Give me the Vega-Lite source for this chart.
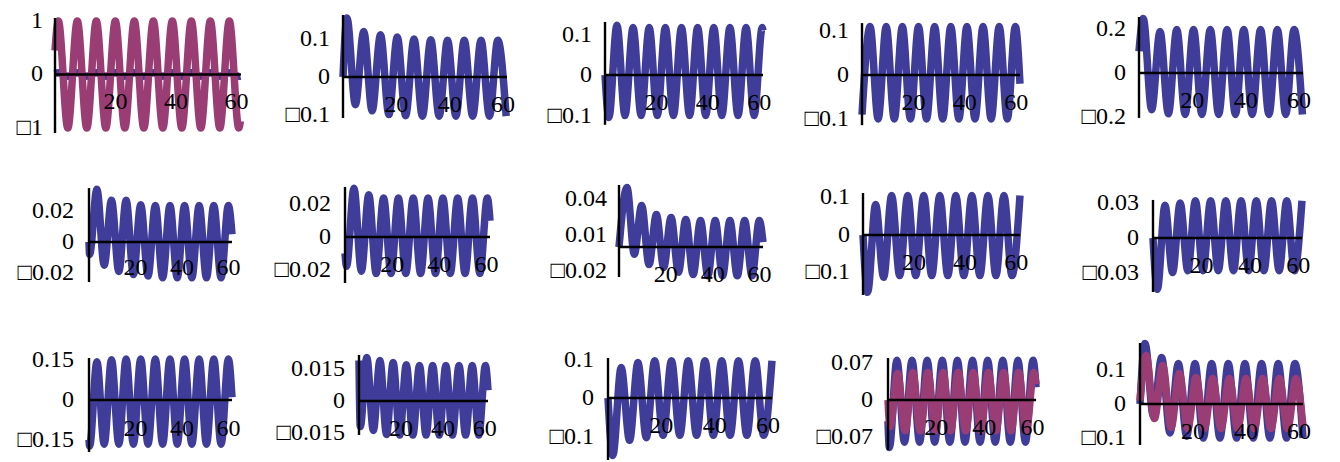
{
"$schema":"https://vega.github.io/schema/vega-lite/v6.json",
"padding":0,
"background":"white",
"config":{"view":{"stroke":null},"line":{"interpolate":"monotone","strokeWidth":7.5},"text":{"font":"Liberation Serif","fontSize":24,"color":"black"}},
"datasets":{"curves":[
{"p":1,"s":"b","t":0,"v":0.015},{"p":1,"s":"b","t":1.1,"v":0.035},{"p":1,"s":"b","t":4.24,"v":-0.035},{"p":1,"s":"b","t":7.38,"v":0.035},{"p":1,"s":"b","t":10.52,"v":-0.035},{"p":1,"s":"b","t":13.67,"v":0.035},{"p":1,"s":"b","t":16.81,"v":-0.035},{"p":1,"s":"b","t":19.95,"v":0.035},{"p":1,"s":"b","t":23.09,"v":-0.035},{"p":1,"s":"b","t":26.23,"v":0.035},{"p":1,"s":"b","t":29.37,"v":-0.035},{"p":1,"s":"b","t":32.52,"v":0.035},{"p":1,"s":"b","t":35.66,"v":-0.035},{"p":1,"s":"b","t":38.8,"v":0.035},{"p":1,"s":"b","t":41.94,"v":-0.035},{"p":1,"s":"b","t":45.08,"v":0.035},{"p":1,"s":"b","t":48.22,"v":-0.035},{"p":1,"s":"b","t":51.37,"v":0.035},{"p":1,"s":"b","t":54.51,"v":-0.035},{"p":1,"s":"b","t":57.65,"v":0.035},{"p":1,"s":"b","t":60.79,"v":-0.035},{"p":1,"s":"b","t":61.3,"v":-0.03},
{"p":1,"s":"r","t":0,"v":0.45},{"p":1,"s":"r","t":1.1,"v":1},{"p":1,"s":"r","t":4.24,"v":-1},{"p":1,"s":"r","t":7.38,"v":1},{"p":1,"s":"r","t":10.52,"v":-1},{"p":1,"s":"r","t":13.67,"v":1},{"p":1,"s":"r","t":16.81,"v":-1},{"p":1,"s":"r","t":19.95,"v":1},{"p":1,"s":"r","t":23.09,"v":-1},{"p":1,"s":"r","t":26.23,"v":1},{"p":1,"s":"r","t":29.37,"v":-1},{"p":1,"s":"r","t":32.52,"v":1},{"p":1,"s":"r","t":35.66,"v":-1},{"p":1,"s":"r","t":38.8,"v":1},{"p":1,"s":"r","t":41.94,"v":-1},{"p":1,"s":"r","t":45.08,"v":1},{"p":1,"s":"r","t":48.22,"v":-1},{"p":1,"s":"r","t":51.37,"v":1},{"p":1,"s":"r","t":54.51,"v":-1},{"p":1,"s":"r","t":57.65,"v":1},{"p":1,"s":"r","t":60.79,"v":-1},{"p":1,"s":"r","t":61.3,"v":-0.87},
{"p":2,"s":"b","t":0,"v":0},{"p":2,"s":"b","t":1.5,"v":0.155},{"p":2,"s":"b","t":4.64,"v":-0.073},{"p":2,"s":"b","t":7.78,"v":0.12},{"p":2,"s":"b","t":10.92,"v":-0.089},{"p":2,"s":"b","t":14.07,"v":0.111},{"p":2,"s":"b","t":17.21,"v":-0.099},{"p":2,"s":"b","t":20.35,"v":0.105},{"p":2,"s":"b","t":23.49,"v":-0.102},{"p":2,"s":"b","t":26.63,"v":0.1},{"p":2,"s":"b","t":29.77,"v":-0.103},{"p":2,"s":"b","t":32.92,"v":0.098},{"p":2,"s":"b","t":36.06,"v":-0.103},{"p":2,"s":"b","t":39.2,"v":0.097},{"p":2,"s":"b","t":42.34,"v":-0.103},{"p":2,"s":"b","t":45.48,"v":0.097},{"p":2,"s":"b","t":48.62,"v":-0.103},{"p":2,"s":"b","t":51.77,"v":0.097},{"p":2,"s":"b","t":54.91,"v":-0.103},{"p":2,"s":"b","t":58.05,"v":0.097},{"p":2,"s":"b","t":61.19,"v":-0.103},
{"p":3,"s":"b","t":0,"v":0},{"p":3,"s":"b","t":1.5,"v":-0.105},{"p":3,"s":"b","t":4.64,"v":0.123},{"p":3,"s":"b","t":7.78,"v":-0.1},{"p":3,"s":"b","t":10.92,"v":0.117},{"p":3,"s":"b","t":14.07,"v":-0.1},{"p":3,"s":"b","t":17.21,"v":0.117},{"p":3,"s":"b","t":20.35,"v":-0.1},{"p":3,"s":"b","t":23.49,"v":0.117},{"p":3,"s":"b","t":26.63,"v":-0.1},{"p":3,"s":"b","t":29.77,"v":0.117},{"p":3,"s":"b","t":32.92,"v":-0.1},{"p":3,"s":"b","t":36.06,"v":0.117},{"p":3,"s":"b","t":39.2,"v":-0.1},{"p":3,"s":"b","t":42.34,"v":0.117},{"p":3,"s":"b","t":45.48,"v":-0.1},{"p":3,"s":"b","t":48.62,"v":0.117},{"p":3,"s":"b","t":51.77,"v":-0.1},{"p":3,"s":"b","t":54.91,"v":0.117},{"p":3,"s":"b","t":58.05,"v":-0.1},{"p":3,"s":"b","t":61.19,"v":0.117},{"p":3,"s":"b","t":61.5,"v":0.11},
{"p":4,"s":"b","t":0,"v":-0.09},{"p":4,"s":"b","t":3.14,"v":0.11},{"p":4,"s":"b","t":6.28,"v":-0.1},{"p":4,"s":"b","t":9.42,"v":0.11},{"p":4,"s":"b","t":12.57,"v":-0.1},{"p":4,"s":"b","t":15.71,"v":0.11},{"p":4,"s":"b","t":18.85,"v":-0.1},{"p":4,"s":"b","t":21.99,"v":0.11},{"p":4,"s":"b","t":25.13,"v":-0.1},{"p":4,"s":"b","t":28.27,"v":0.11},{"p":4,"s":"b","t":31.42,"v":-0.1},{"p":4,"s":"b","t":34.56,"v":0.11},{"p":4,"s":"b","t":37.7,"v":-0.1},{"p":4,"s":"b","t":40.84,"v":0.11},{"p":4,"s":"b","t":43.98,"v":-0.1},{"p":4,"s":"b","t":47.12,"v":0.11},{"p":4,"s":"b","t":50.27,"v":-0.1},{"p":4,"s":"b","t":53.41,"v":0.11},{"p":4,"s":"b","t":56.55,"v":-0.1},{"p":4,"s":"b","t":59.69,"v":0.11},{"p":4,"s":"b","t":61.5,"v":-0.02},
{"p":5,"s":"b","t":0,"v":0.1},{"p":5,"s":"b","t":1.6,"v":0.25},{"p":5,"s":"b","t":4.74,"v":-0.168},{"p":5,"s":"b","t":7.88,"v":0.19},{"p":5,"s":"b","t":11.02,"v":-0.187},{"p":5,"s":"b","t":14.17,"v":0.2},{"p":5,"s":"b","t":17.31,"v":-0.19},{"p":5,"s":"b","t":20.45,"v":0.2},{"p":5,"s":"b","t":23.59,"v":-0.19},{"p":5,"s":"b","t":26.73,"v":0.2},{"p":5,"s":"b","t":29.87,"v":-0.19},{"p":5,"s":"b","t":33.02,"v":0.2},{"p":5,"s":"b","t":36.16,"v":-0.19},{"p":5,"s":"b","t":39.3,"v":0.2},{"p":5,"s":"b","t":42.44,"v":-0.19},{"p":5,"s":"b","t":45.58,"v":0.2},{"p":5,"s":"b","t":48.72,"v":-0.19},{"p":5,"s":"b","t":51.87,"v":0.2},{"p":5,"s":"b","t":55.01,"v":-0.19},{"p":5,"s":"b","t":58.15,"v":0.2},{"p":5,"s":"b","t":61.29,"v":-0.19},
{"p":6,"s":"b","t":0,"v":0},{"p":6,"s":"b","t":0.26,"v":-0.008},{"p":6,"s":"b","t":3.4,"v":0.034},{"p":6,"s":"b","t":6.54,"v":-0.015},{"p":6,"s":"b","t":9.68,"v":0.027},{"p":6,"s":"b","t":12.83,"v":-0.019},{"p":6,"s":"b","t":15.97,"v":0.027},{"p":6,"s":"b","t":19.11,"v":-0.021},{"p":6,"s":"b","t":22.25,"v":0.024},{"p":6,"s":"b","t":25.39,"v":-0.022},{"p":6,"s":"b","t":28.53,"v":0.0235},{"p":6,"s":"b","t":31.68,"v":-0.023},{"p":6,"s":"b","t":34.82,"v":0.0235},{"p":6,"s":"b","t":37.96,"v":-0.023},{"p":6,"s":"b","t":41.1,"v":0.0235},{"p":6,"s":"b","t":44.24,"v":-0.023},{"p":6,"s":"b","t":47.38,"v":0.0235},{"p":6,"s":"b","t":50.53,"v":-0.023},{"p":6,"s":"b","t":53.67,"v":0.0235},{"p":6,"s":"b","t":56.81,"v":-0.023},{"p":6,"s":"b","t":59.95,"v":0.0235},{"p":6,"s":"b","t":61.5,"v":0.005},
{"p":7,"s":"b","t":0,"v":-0.01},{"p":7,"s":"b","t":0.66,"v":-0.018},{"p":7,"s":"b","t":3.8,"v":0.03},{"p":7,"s":"b","t":6.94,"v":-0.021},{"p":7,"s":"b","t":10.08,"v":0.026},{"p":7,"s":"b","t":13.23,"v":-0.0225},{"p":7,"s":"b","t":16.37,"v":0.024},{"p":7,"s":"b","t":19.51,"v":-0.0225},{"p":7,"s":"b","t":22.65,"v":0.024},{"p":7,"s":"b","t":25.79,"v":-0.0225},{"p":7,"s":"b","t":28.93,"v":0.024},{"p":7,"s":"b","t":32.08,"v":-0.0225},{"p":7,"s":"b","t":35.22,"v":0.024},{"p":7,"s":"b","t":38.36,"v":-0.0225},{"p":7,"s":"b","t":41.5,"v":0.024},{"p":7,"s":"b","t":44.64,"v":-0.0225},{"p":7,"s":"b","t":47.78,"v":0.024},{"p":7,"s":"b","t":50.93,"v":-0.0225},{"p":7,"s":"b","t":54.07,"v":0.024},{"p":7,"s":"b","t":57.21,"v":-0.0225},{"p":7,"s":"b","t":60.35,"v":0.024},{"p":7,"s":"b","t":61.5,"v":0.01},
{"p":8,"s":"b","t":0,"v":0},{"p":8,"s":"b","t":3.4,"v":0.0496},{"p":8,"s":"b","t":6.54,"v":-0.006},{"p":8,"s":"b","t":9.68,"v":0.0346},{"p":8,"s":"b","t":12.83,"v":-0.0146},{"p":8,"s":"b","t":15.97,"v":0.027},{"p":8,"s":"b","t":19.11,"v":-0.017},{"p":8,"s":"b","t":22.25,"v":0.0246},{"p":8,"s":"b","t":25.39,"v":-0.021},{"p":8,"s":"b","t":28.53,"v":0.023},{"p":8,"s":"b","t":31.68,"v":-0.023},{"p":8,"s":"b","t":34.82,"v":0.022},{"p":8,"s":"b","t":37.96,"v":-0.024},{"p":8,"s":"b","t":41.1,"v":0.022},{"p":8,"s":"b","t":44.24,"v":-0.024},{"p":8,"s":"b","t":47.38,"v":0.022},{"p":8,"s":"b","t":50.53,"v":-0.024},{"p":8,"s":"b","t":53.67,"v":0.022},{"p":8,"s":"b","t":56.81,"v":-0.024},{"p":8,"s":"b","t":59.95,"v":0.022},{"p":8,"s":"b","t":61.5,"v":0.004},
{"p":9,"s":"b","t":0,"v":0},{"p":9,"s":"b","t":1.8,"v":-0.153},{"p":9,"s":"b","t":4.94,"v":0.081},{"p":9,"s":"b","t":8.08,"v":-0.113},{"p":9,"s":"b","t":11.22,"v":0.105},{"p":9,"s":"b","t":14.37,"v":-0.108},{"p":9,"s":"b","t":17.51,"v":0.105},{"p":9,"s":"b","t":20.65,"v":-0.108},{"p":9,"s":"b","t":23.79,"v":0.105},{"p":9,"s":"b","t":26.93,"v":-0.108},{"p":9,"s":"b","t":30.07,"v":0.105},{"p":9,"s":"b","t":33.22,"v":-0.108},{"p":9,"s":"b","t":36.36,"v":0.105},{"p":9,"s":"b","t":39.5,"v":-0.108},{"p":9,"s":"b","t":42.64,"v":0.105},{"p":9,"s":"b","t":45.78,"v":-0.108},{"p":9,"s":"b","t":48.92,"v":0.105},{"p":9,"s":"b","t":52.07,"v":-0.108},{"p":9,"s":"b","t":55.21,"v":0.105},{"p":9,"s":"b","t":58.35,"v":-0.108},{"p":9,"s":"b","t":61.49,"v":0.105},
{"p":10,"s":"b","t":0,"v":0},{"p":10,"s":"b","t":1.8,"v":-0.044},{"p":10,"s":"b","t":4.94,"v":0.028},{"p":10,"s":"b","t":8.08,"v":-0.0296},{"p":10,"s":"b","t":11.22,"v":0.03},{"p":10,"s":"b","t":14.37,"v":-0.028},{"p":10,"s":"b","t":17.51,"v":0.032},{"p":10,"s":"b","t":20.65,"v":-0.028},{"p":10,"s":"b","t":23.79,"v":0.032},{"p":10,"s":"b","t":26.93,"v":-0.028},{"p":10,"s":"b","t":30.07,"v":0.032},{"p":10,"s":"b","t":33.22,"v":-0.028},{"p":10,"s":"b","t":36.36,"v":0.032},{"p":10,"s":"b","t":39.5,"v":-0.028},{"p":10,"s":"b","t":42.64,"v":0.032},{"p":10,"s":"b","t":45.78,"v":-0.028},{"p":10,"s":"b","t":48.92,"v":0.032},{"p":10,"s":"b","t":52.07,"v":-0.028},{"p":10,"s":"b","t":55.21,"v":0.032},{"p":10,"s":"b","t":58.35,"v":-0.028},{"p":10,"s":"b","t":61.49,"v":0.032},
{"p":11,"s":"b","t":0,"v":-0.15},{"p":11,"s":"b","t":0.26,"v":-0.174},{"p":11,"s":"b","t":3.4,"v":0.144},{"p":11,"s":"b","t":6.54,"v":-0.167},{"p":11,"s":"b","t":9.68,"v":0.152},{"p":11,"s":"b","t":12.83,"v":-0.167},{"p":11,"s":"b","t":15.97,"v":0.155},{"p":11,"s":"b","t":19.11,"v":-0.167},{"p":11,"s":"b","t":22.25,"v":0.155},{"p":11,"s":"b","t":25.39,"v":-0.167},{"p":11,"s":"b","t":28.53,"v":0.155},{"p":11,"s":"b","t":31.68,"v":-0.167},{"p":11,"s":"b","t":34.82,"v":0.155},{"p":11,"s":"b","t":37.96,"v":-0.167},{"p":11,"s":"b","t":41.1,"v":0.155},{"p":11,"s":"b","t":44.24,"v":-0.167},{"p":11,"s":"b","t":47.38,"v":0.155},{"p":11,"s":"b","t":50.53,"v":-0.167},{"p":11,"s":"b","t":53.67,"v":0.155},{"p":11,"s":"b","t":56.81,"v":-0.167},{"p":11,"s":"b","t":59.95,"v":0.155},{"p":11,"s":"b","t":61.5,"v":0.01},
{"p":12,"s":"b","t":0,"v":0.019},{"p":12,"s":"b","t":0.6,"v":-0.012},{"p":12,"s":"b","t":3.7,"v":0.0204},{"p":12,"s":"b","t":6.84,"v":-0.0138},{"p":12,"s":"b","t":9.98,"v":0.019},{"p":12,"s":"b","t":13.12,"v":-0.0157},{"p":12,"s":"b","t":16.27,"v":0.018},{"p":12,"s":"b","t":19.41,"v":-0.016},{"p":12,"s":"b","t":22.55,"v":0.017},{"p":12,"s":"b","t":25.69,"v":-0.016},{"p":12,"s":"b","t":28.83,"v":0.0166},{"p":12,"s":"b","t":31.97,"v":-0.016},{"p":12,"s":"b","t":35.12,"v":0.0166},{"p":12,"s":"b","t":38.26,"v":-0.016},{"p":12,"s":"b","t":41.4,"v":0.0166},{"p":12,"s":"b","t":44.54,"v":-0.016},{"p":12,"s":"b","t":47.68,"v":0.0166},{"p":12,"s":"b","t":50.82,"v":-0.016},{"p":12,"s":"b","t":53.97,"v":0.0166},{"p":12,"s":"b","t":57.11,"v":-0.016},{"p":12,"s":"b","t":60.25,"v":0.0166},{"p":12,"s":"b","t":61.5,"v":0.005},
{"p":13,"s":"b","t":0,"v":0},{"p":13,"s":"b","t":1.8,"v":-0.149},{"p":13,"s":"b","t":4.94,"v":0.079},{"p":13,"s":"b","t":8.08,"v":-0.11},{"p":13,"s":"b","t":11.22,"v":0.092},{"p":13,"s":"b","t":14.37,"v":-0.103},{"p":13,"s":"b","t":17.51,"v":0.097},{"p":13,"s":"b","t":20.65,"v":-0.097},{"p":13,"s":"b","t":23.79,"v":0.097},{"p":13,"s":"b","t":26.93,"v":-0.097},{"p":13,"s":"b","t":30.07,"v":0.097},{"p":13,"s":"b","t":33.22,"v":-0.097},{"p":13,"s":"b","t":36.36,"v":0.097},{"p":13,"s":"b","t":39.5,"v":-0.097},{"p":13,"s":"b","t":42.64,"v":0.097},{"p":13,"s":"b","t":45.78,"v":-0.097},{"p":13,"s":"b","t":48.92,"v":0.097},{"p":13,"s":"b","t":52.07,"v":-0.097},{"p":13,"s":"b","t":55.21,"v":0.097},{"p":13,"s":"b","t":58.35,"v":-0.097},{"p":13,"s":"b","t":61.49,"v":0.097},
{"p":14,"s":"b","t":0,"v":-0.04},{"p":14,"s":"b","t":0.56,"v":-0.09},{"p":14,"s":"b","t":3.7,"v":0.075},{"p":14,"s":"b","t":6.84,"v":-0.08},{"p":14,"s":"b","t":9.98,"v":0.075},{"p":14,"s":"b","t":13.12,"v":-0.08},{"p":14,"s":"b","t":16.27,"v":0.075},{"p":14,"s":"b","t":19.41,"v":-0.08},{"p":14,"s":"b","t":22.55,"v":0.075},{"p":14,"s":"b","t":25.69,"v":-0.08},{"p":14,"s":"b","t":28.83,"v":0.075},{"p":14,"s":"b","t":31.97,"v":-0.08},{"p":14,"s":"b","t":35.12,"v":0.075},{"p":14,"s":"b","t":38.26,"v":-0.08},{"p":14,"s":"b","t":41.4,"v":0.075},{"p":14,"s":"b","t":44.54,"v":-0.08},{"p":14,"s":"b","t":47.68,"v":0.075},{"p":14,"s":"b","t":50.82,"v":-0.08},{"p":14,"s":"b","t":53.97,"v":0.075},{"p":14,"s":"b","t":57.11,"v":-0.08},{"p":14,"s":"b","t":60.25,"v":0.075},{"p":14,"s":"b","t":61.5,"v":0.024},
{"p":14,"s":"r","t":0,"v":0},{"p":14,"s":"r","t":0.86,"v":-0.05},{"p":14,"s":"r","t":4,"v":0.05},{"p":14,"s":"r","t":7.14,"v":-0.058},{"p":14,"s":"r","t":10.28,"v":0.052},{"p":14,"s":"r","t":13.42,"v":-0.058},{"p":14,"s":"r","t":16.57,"v":0.052},{"p":14,"s":"r","t":19.71,"v":-0.058},{"p":14,"s":"r","t":22.85,"v":0.052},{"p":14,"s":"r","t":25.99,"v":-0.058},{"p":14,"s":"r","t":29.13,"v":0.052},{"p":14,"s":"r","t":32.27,"v":-0.058},{"p":14,"s":"r","t":35.42,"v":0.052},{"p":14,"s":"r","t":38.56,"v":-0.058},{"p":14,"s":"r","t":41.7,"v":0.052},{"p":14,"s":"r","t":44.84,"v":-0.058},{"p":14,"s":"r","t":47.98,"v":0.052},{"p":14,"s":"r","t":51.12,"v":-0.058},{"p":14,"s":"r","t":54.27,"v":0.052},{"p":14,"s":"r","t":57.41,"v":-0.058},{"p":14,"s":"r","t":60.55,"v":0.052},{"p":14,"s":"r","t":61.5,"v":0.03},
{"p":15,"s":"b","t":0,"v":0},{"p":15,"s":"b","t":1.9,"v":0.178},{"p":15,"s":"b","t":5.04,"v":-0.035},{"p":15,"s":"b","t":8.18,"v":0.137},{"p":15,"s":"b","t":11.32,"v":-0.085},{"p":15,"s":"b","t":14.47,"v":0.119},{"p":15,"s":"b","t":17.61,"v":-0.095},{"p":15,"s":"b","t":20.75,"v":0.119},{"p":15,"s":"b","t":23.89,"v":-0.1},{"p":15,"s":"b","t":27.03,"v":0.119},{"p":15,"s":"b","t":30.17,"v":-0.1},{"p":15,"s":"b","t":33.32,"v":0.119},{"p":15,"s":"b","t":36.46,"v":-0.1},{"p":15,"s":"b","t":39.6,"v":0.119},{"p":15,"s":"b","t":42.74,"v":-0.1},{"p":15,"s":"b","t":45.88,"v":0.119},{"p":15,"s":"b","t":49.02,"v":-0.1},{"p":15,"s":"b","t":52.17,"v":0.119},{"p":15,"s":"b","t":55.31,"v":-0.1},{"p":15,"s":"b","t":58.45,"v":0.119},{"p":15,"s":"b","t":61.5,"v":-0.1},
{"p":15,"s":"r","t":0,"v":0.01},{"p":15,"s":"r","t":2.3,"v":0.143},{"p":15,"s":"r","t":5.44,"v":-0.043},{"p":15,"s":"r","t":8.58,"v":0.113},{"p":15,"s":"r","t":11.72,"v":-0.069},{"p":15,"s":"r","t":14.87,"v":0.09},{"p":15,"s":"r","t":18.01,"v":-0.072},{"p":15,"s":"r","t":21.15,"v":0.078},{"p":15,"s":"r","t":24.29,"v":-0.072},{"p":15,"s":"r","t":27.43,"v":0.075},{"p":15,"s":"r","t":30.57,"v":-0.072},{"p":15,"s":"r","t":33.72,"v":0.075},{"p":15,"s":"r","t":36.86,"v":-0.072},{"p":15,"s":"r","t":40,"v":0.075},{"p":15,"s":"r","t":43.14,"v":-0.072},{"p":15,"s":"r","t":46.28,"v":0.075},{"p":15,"s":"r","t":49.42,"v":-0.072},{"p":15,"s":"r","t":52.57,"v":0.075},{"p":15,"s":"r","t":55.71,"v":-0.072},{"p":15,"s":"r","t":58.85,"v":0.075},{"p":15,"s":"r","t":61.5,"v":-0.065}
]},
"vconcat":[
{"hconcat":[
{"width":283,"height":155,"encoding":{"x":{"field":"t","type":"quantitative","scale":{"domain":[-18.19,75.4],"nice":false,"zero":false},"axis":null},"y":{"field":"v","type":"quantitative","scale":{"domain":[-1.5047,1.3925],"nice":false,"zero":false},"axis":null}},
"layer":[
{"data":{"name":"curves"},"transform":[{"filter":"datum.p==1 && datum.s=='b'"}],"mark":{"type":"line","color":"#3F3D99"}},
{"data":{"name":"curves"},"transform":[{"filter":"datum.p==1 && datum.s=='r'"}],"mark":{"type":"line","color":"#993D74"}},
{"data":{"values":[{"t":0,"t2":61.5,"v":0,"v2":0},{"t":0,"t2":0,"v":-1.093,"v2":1.056}]},"mark":{"type":"rule","color":"black","strokeWidth":2.4},"encoding":{"x2":{"field":"t2"},"y2":{"field":"v2"}}},
{"data":{"values":[{"t":0,"v":1,"l":"1"},{"t":0,"v":0,"l":"0"},{"t":0,"v":-1,"l":"□1"}]},"mark":{"type":"text","align":"right","baseline":"middle","dx":-12},"encoding":{"text":{"field":"l"}}},
{"data":{"values":[{"t":20,"v":0,"l":"20"},{"t":40,"v":0,"l":"40"},{"t":60,"v":0,"l":"60"}]},"mark":{"type":"text","align":"center","baseline":"middle","dy":28},"encoding":{"text":{"field":"l"}}}
]},
{"width":262,"height":155,"encoding":{"x":{"field":"t","type":"quantitative","scale":{"domain":[-22.5,75.75],"nice":false,"zero":false},"axis":null},"y":{"field":"v","type":"quantitative","scale":{"domain":[-0.2053,0.2026],"nice":false,"zero":false},"axis":null}},
"layer":[
{"data":{"name":"curves"},"transform":[{"filter":"datum.p==2"}],"mark":{"type":"line","color":"#3F3D99"}},
{"data":{"values":[{"t":0,"t2":61.5,"v":0,"v2":0},{"t":0,"t2":0,"v":-0.108,"v2":0.163}]},"mark":{"type":"rule","color":"black","strokeWidth":2.4},"encoding":{"x2":{"field":"t2"},"y2":{"field":"v2"}}},
{"data":{"values":[{"t":0,"v":0.1,"l":"0.1"},{"t":0,"v":0,"l":"0"},{"t":0,"v":-0.1,"l":"□0.1"}]},"mark":{"type":"text","align":"right","baseline":"middle","dx":-13},"encoding":{"text":{"field":"l"}}},
{"data":{"values":[{"t":20,"v":0,"l":"20"},{"t":40,"v":0,"l":"40"},{"t":60,"v":0,"l":"60"}]},"mark":{"type":"text","align":"center","baseline":"middle","dy":28},"encoding":{"text":{"field":"l"}}}
]},
{"width":257,"height":155,"encoding":{"x":{"field":"t","type":"quantitative","scale":{"domain":[-23.36,76.68],"nice":false,"zero":false},"axis":null},"y":{"field":"v","type":"quantitative","scale":{"domain":[-0.1975,0.1852],"nice":false,"zero":false},"axis":null}},
"layer":[
{"data":{"name":"curves"},"transform":[{"filter":"datum.p==3"}],"mark":{"type":"line","color":"#3F3D99"}},
{"data":{"values":[{"t":0,"t2":61.5,"v":0,"v2":0},{"t":0,"t2":0,"v":-0.123,"v2":0.131}]},"mark":{"type":"rule","color":"black","strokeWidth":2.4},"encoding":{"x2":{"field":"t2"},"y2":{"field":"v2"}}},
{"data":{"values":[{"t":0,"v":0.1,"l":"0.1"},{"t":0,"v":0,"l":"0"},{"t":0,"v":-0.1,"l":"□0.1"}]},"mark":{"type":"text","align":"right","baseline":"middle","dx":-13},"encoding":{"text":{"field":"l"}}},
{"data":{"values":[{"t":20,"v":0,"l":"20"},{"t":40,"v":0,"l":"40"},{"t":60,"v":0,"l":"60"}]},"mark":{"type":"text","align":"center","baseline":"middle","dy":28},"encoding":{"text":{"field":"l"}}}
]},
{"width":277,"height":155,"encoding":{"x":{"field":"t","type":"quantitative","scale":{"domain":[-23.36,84.47],"nice":false,"zero":false},"axis":null},"y":{"field":"v","type":"quantitative","scale":{"domain":[-0.1818,0.1705],"nice":false,"zero":false},"axis":null}},
"layer":[
{"data":{"name":"curves"},"transform":[{"filter":"datum.p==4"}],"mark":{"type":"line","color":"#3F3D99"}},
{"data":{"values":[{"t":0,"t2":61.5,"v":0,"v2":0},{"t":0,"t2":0,"v":-0.114,"v2":0.118}]},"mark":{"type":"rule","color":"black","strokeWidth":2.4},"encoding":{"x2":{"field":"t2"},"y2":{"field":"v2"}}},
{"data":{"values":[{"t":0,"v":0.1,"l":"0.1"},{"t":0,"v":0,"l":"0"},{"t":0,"v":-0.1,"l":"□0.1"}]},"mark":{"type":"text","align":"right","baseline":"middle","dx":-13},"encoding":{"text":{"field":"l"}}},
{"data":{"values":[{"t":20,"v":0,"l":"20"},{"t":40,"v":0,"l":"40"},{"t":60,"v":0,"l":"60"}]},"mark":{"type":"text","align":"center","baseline":"middle","dy":28},"encoding":{"text":{"field":"l"}}}
]},
{"width":261,"height":155,"encoding":{"x":{"field":"t","type":"quantitative","scale":{"domain":[-22.5,75.37],"nice":false,"zero":false},"axis":null},"y":{"field":"v","type":"quantitative","scale":{"domain":[-0.3761,0.3349],"nice":false,"zero":false},"axis":null}},
"layer":[
{"data":{"name":"curves"},"transform":[{"filter":"datum.p==5"}],"mark":{"type":"line","color":"#3F3D99"}},
{"data":{"values":[{"t":0,"t2":61.5,"v":0,"v2":0},{"t":0,"t2":0,"v":-0.206,"v2":0.257}]},"mark":{"type":"rule","color":"black","strokeWidth":2.4},"encoding":{"x2":{"field":"t2"},"y2":{"field":"v2"}}},
{"data":{"values":[{"t":0,"v":0.2,"l":"0.2"},{"t":0,"v":0,"l":"0"},{"t":0,"v":-0.2,"l":"□0.2"}]},"mark":{"type":"text","align":"right","baseline":"middle","dx":-13},"encoding":{"text":{"field":"l"}}},
{"data":{"values":[{"t":20,"v":0,"l":"20"},{"t":40,"v":0,"l":"40"},{"t":60,"v":0,"l":"60"}]},"mark":{"type":"text","align":"center","baseline":"middle","dy":28},"encoding":{"text":{"field":"l"}}}
]}
],"spacing":0,"bounds":"flush"},
{"hconcat":[
{"width":285,"height":155,"encoding":{"x":{"field":"t","type":"quantitative","scale":{"domain":[-38.28,84.3],"nice":false,"zero":false},"axis":null},"y":{"field":"v","type":"quantitative","scale":{"domain":[-0.04387,0.05613],"nice":false,"zero":false},"axis":null}},
"layer":[
{"data":{"name":"curves"},"transform":[{"filter":"datum.p==6"}],"mark":{"type":"line","color":"#3F3D99"}},
{"data":{"values":[{"t":0,"t2":61.5,"v":0,"v2":0},{"t":0,"t2":0,"v":-0.0258,"v2":0.0348}]},"mark":{"type":"rule","color":"black","strokeWidth":2.4},"encoding":{"x2":{"field":"t2"},"y2":{"field":"v2"}}},
{"data":{"values":[{"t":0,"v":0.02,"l":"0.02"},{"t":0,"v":0,"l":"0"},{"t":0,"v":-0.02,"l":"□0.02"}]},"mark":{"type":"text","align":"right","baseline":"middle","dx":-15},"encoding":{"text":{"field":"l"}}},
{"data":{"values":[{"t":20,"v":0,"l":"20"},{"t":40,"v":0,"l":"40"},{"t":60,"v":0,"l":"60"}]},"mark":{"type":"text","align":"center","baseline":"middle","dy":26},"encoding":{"text":{"field":"l"}}}
]},
{"width":274,"height":155,"encoding":{"x":{"field":"t","type":"quantitative","scale":{"domain":[-25.45,90.76],"nice":false,"zero":false},"axis":null},"y":{"field":"v","type":"quantitative","scale":{"domain":[-0.04492,0.05046],"nice":false,"zero":false},"axis":null}},
"layer":[
{"data":{"name":"curves"},"transform":[{"filter":"datum.p==7"}],"mark":{"type":"line","color":"#3F3D99"}},
{"data":{"values":[{"t":0,"t2":61.5,"v":0,"v2":0},{"t":0,"t2":0,"v":-0.0283,"v2":0.0308}]},"mark":{"type":"rule","color":"black","strokeWidth":2.4},"encoding":{"x2":{"field":"t2"},"y2":{"field":"v2"}}},
{"data":{"values":[{"t":0,"v":0.02,"l":"0.02"},{"t":0,"v":0,"l":"0"},{"t":0,"v":-0.02,"l":"□0.02"}]},"mark":{"type":"text","align":"right","baseline":"middle","dx":-14},"encoding":{"text":{"field":"l"}}},
{"data":{"values":[{"t":20,"v":0,"l":"20"},{"t":40,"v":0,"l":"40"},{"t":60,"v":0,"l":"60"}]},"mark":{"type":"text","align":"center","baseline":"middle","dy":28},"encoding":{"text":{"field":"l"}}}
]},
{"width":244,"height":155,"encoding":{"x":{"field":"t","type":"quantitative","scale":{"domain":[-25.63,78.6],"nice":false,"zero":false},"axis":null},"y":{"field":"v","type":"quantitative","scale":{"domain":[-0.0525,0.07667],"nice":false,"zero":false},"axis":null}},
"layer":[
{"data":{"name":"curves"},"transform":[{"filter":"datum.p==8"}],"mark":{"type":"line","color":"#3F3D99"}},
{"data":{"values":[{"t":0,"t2":61.5,"v":0,"v2":0},{"t":0,"t2":0,"v":-0.025,"v2":0.0517}]},"mark":{"type":"rule","color":"black","strokeWidth":2.4},"encoding":{"x2":{"field":"t2"},"y2":{"field":"v2"}}},
{"data":{"values":[{"t":0,"v":0.04,"l":"0.04"},{"t":0,"v":0.01,"l":"0.01"},{"t":0,"v":-0.02,"l":"□0.02"}]},"mark":{"type":"text","align":"right","baseline":"middle","dx":-12},"encoding":{"text":{"field":"l"}}},
{"data":{"values":[{"t":20,"v":0,"l":"20"},{"t":40,"v":0,"l":"40"},{"t":60,"v":0,"l":"60"}]},"mark":{"type":"text","align":"center","baseline":"middle","dy":28},"encoding":{"text":{"field":"l"}}}
]},
{"width":290,"height":155,"encoding":{"x":{"field":"t","type":"quantitative","scale":{"domain":[-23.5,90.09],"nice":false,"zero":false},"axis":null},"y":{"field":"v","type":"quantitative","scale":{"domain":[-0.2,0.2133],"nice":false,"zero":false},"axis":null}},
"layer":[
{"data":{"name":"curves"},"transform":[{"filter":"datum.p==9"}],"mark":{"type":"line","color":"#3F3D99"}},
{"data":{"values":[{"t":0,"t2":61.5,"v":0,"v2":0},{"t":0,"t2":0,"v":-0.16,"v2":0.112}]},"mark":{"type":"rule","color":"black","strokeWidth":2.4},"encoding":{"x2":{"field":"t2"},"y2":{"field":"v2"}}},
{"data":{"values":[{"t":0,"v":0.1,"l":"0.1"},{"t":0,"v":0,"l":"0"},{"t":0,"v":-0.1,"l":"□0.1"}]},"mark":{"type":"text","align":"right","baseline":"middle","dx":-13},"encoding":{"text":{"field":"l"}}},
{"data":{"values":[{"t":20,"v":0,"l":"20"},{"t":40,"v":0,"l":"40"},{"t":60,"v":0,"l":"60"}]},"mark":{"type":"text","align":"center","baseline":"middle","dy":28},"encoding":{"text":{"field":"l"}}}
]},
{"width":247,"height":155,"encoding":{"x":{"field":"t","type":"quantitative","scale":{"domain":[-24.76,77.18],"nice":false,"zero":false},"axis":null},"y":{"field":"v","type":"quantitative","scale":{"domain":[-0.0617,0.07112],"nice":false,"zero":false},"axis":null}},
"layer":[
{"data":{"name":"curves"},"transform":[{"filter":"datum.p==10"}],"mark":{"type":"line","color":"#3F3D99"}},
{"data":{"values":[{"t":0,"t2":61.5,"v":0,"v2":0},{"t":0,"t2":0,"v":-0.0463,"v2":0.0326}]},"mark":{"type":"rule","color":"black","strokeWidth":2.4},"encoding":{"x2":{"field":"t2"},"y2":{"field":"v2"}}},
{"data":{"values":[{"t":0,"v":0.03,"l":"0.03"},{"t":0,"v":0,"l":"0"},{"t":0,"v":-0.03,"l":"□0.03"}]},"mark":{"type":"text","align":"right","baseline":"middle","dx":-14},"encoding":{"text":{"field":"l"}}},
{"data":{"values":[{"t":20,"v":0,"l":"20"},{"t":40,"v":0,"l":"40"},{"t":60,"v":0,"l":"60"}]},"mark":{"type":"text","align":"center","baseline":"middle","dy":28},"encoding":{"text":{"field":"l"}}}
]}
],"spacing":0,"bounds":"flush"},
{"hconcat":[
{"width":299,"height":152,"encoding":{"x":{"field":"t","type":"quantitative","scale":{"domain":[-38.28,90.32],"nice":false,"zero":false},"axis":null},"y":{"field":"v","type":"quantitative","scale":{"domain":[-0.234,0.3396],"nice":false,"zero":false},"axis":null}},
"layer":[
{"data":{"name":"curves"},"transform":[{"filter":"datum.p==11"}],"mark":{"type":"line","color":"#3F3D99"}},
{"data":{"values":[{"t":0,"t2":61.5,"v":0,"v2":0},{"t":0,"t2":0,"v":-0.196,"v2":0.1585}]},"mark":{"type":"rule","color":"black","strokeWidth":2.4},"encoding":{"x2":{"field":"t2"},"y2":{"field":"v2"}}},
{"data":{"values":[{"t":0,"v":0.15,"l":"0.15"},{"t":0,"v":0,"l":"0"},{"t":0,"v":-0.15,"l":"□0.15"}]},"mark":{"type":"text","align":"right","baseline":"middle","dx":-15},"encoding":{"text":{"field":"l"}}},
{"data":{"values":[{"t":20,"v":0,"l":"20"},{"t":40,"v":0,"l":"40"},{"t":60,"v":0,"l":"60"}]},"mark":{"type":"text","align":"center","baseline":"middle","dy":29},"encoding":{"text":{"field":"l"}}}
]},
{"width":249,"height":152,"encoding":{"x":{"field":"t","type":"quantitative","scale":{"domain":[-28.6,90.09],"nice":false,"zero":false},"axis":null},"y":{"field":"v","type":"quantitative","scale":{"domain":[-0.0286,0.04266],"nice":false,"zero":false},"axis":null}},
"layer":[
{"data":{"name":"curves"},"transform":[{"filter":"datum.p==12"}],"mark":{"type":"line","color":"#3F3D99"}},
{"data":{"values":[{"t":0,"t2":61.5,"v":0,"v2":0},{"t":0,"t2":0,"v":-0.01594,"v2":0.02157}]},"mark":{"type":"rule","color":"black","strokeWidth":2.4},"encoding":{"x2":{"field":"t2"},"y2":{"field":"v2"}}},
{"data":{"values":[{"t":0,"v":0.015,"l":"0.015"},{"t":0,"v":0,"l":"0"},{"t":0,"v":-0.015,"l":"□0.015"}]},"mark":{"type":"text","align":"right","baseline":"middle","dx":-14},"encoding":{"text":{"field":"l"}}},
{"data":{"values":[{"t":20,"v":0,"l":"20"},{"t":40,"v":0,"l":"40"},{"t":60,"v":0,"l":"60"}]},"mark":{"type":"text","align":"center","baseline":"middle","dy":28},"encoding":{"text":{"field":"l"}}}
]},
{"width":280,"height":152,"encoding":{"x":{"field":"t","type":"quantitative","scale":{"domain":[-22.5,82.49],"nice":false,"zero":false},"axis":null},"y":{"field":"v","type":"quantitative","scale":{"domain":[-0.1662,0.2286],"nice":false,"zero":false},"axis":null}},
"layer":[
{"data":{"name":"curves"},"transform":[{"filter":"datum.p==13"}],"mark":{"type":"line","color":"#3F3D99"}},
{"data":{"values":[{"t":0,"t2":61.5,"v":0,"v2":0},{"t":0,"t2":0,"v":-0.161,"v2":0.1039}]},"mark":{"type":"rule","color":"black","strokeWidth":2.4},"encoding":{"x2":{"field":"t2"},"y2":{"field":"v2"}}},
{"data":{"values":[{"t":0,"v":0.1,"l":"0.1"},{"t":0,"v":0,"l":"0"},{"t":0,"v":-0.1,"l":"□0.1"}]},"mark":{"type":"text","align":"right","baseline":"middle","dx":-14},"encoding":{"text":{"field":"l"}}},
{"data":{"values":[{"t":20,"v":0,"l":"20"},{"t":40,"v":0,"l":"40"},{"t":60,"v":0,"l":"60"}]},"mark":{"type":"text","align":"center","baseline":"middle","dy":28},"encoding":{"text":{"field":"l"}}}
]},
{"width":252,"height":152,"encoding":{"x":{"field":"t","type":"quantitative","scale":{"domain":[-24.93,79.77],"nice":false,"zero":false},"axis":null},"y":{"field":"v","type":"quantitative","scale":{"domain":[-0.1172,0.1701],"nice":false,"zero":false},"axis":null}},
"layer":[
{"data":{"name":"curves"},"transform":[{"filter":"datum.p==14 && datum.s=='b'"}],"mark":{"type":"line","color":"#3F3D99"}},
{"data":{"name":"curves"},"transform":[{"filter":"datum.p==14 && datum.s=='r'"}],"mark":{"type":"line","color":"#993D74"}},
{"data":{"values":[{"t":0,"t2":61.5,"v":0,"v2":0},{"t":0,"t2":0,"v":-0.0945,"v2":0.0794}]},"mark":{"type":"rule","color":"black","strokeWidth":2.4},"encoding":{"x2":{"field":"t2"},"y2":{"field":"v2"}}},
{"data":{"values":[{"t":0,"v":0.07,"l":"0.07"},{"t":0,"v":0,"l":"0"},{"t":0,"v":-0.07,"l":"□0.07"}]},"mark":{"type":"text","align":"right","baseline":"middle","dx":-15},"encoding":{"text":{"field":"l"}}},
{"data":{"values":[{"t":20,"v":0,"l":"20"},{"t":40,"v":0,"l":"40"},{"t":60,"v":0,"l":"60"}]},"mark":{"type":"text","align":"center","baseline":"middle","dy":28},"encoding":{"text":{"field":"l"}}}
]},
{"width":260,"height":152,"encoding":{"x":{"field":"t","type":"quantitative","scale":{"domain":[-22.64,75.47],"nice":false,"zero":false},"axis":null},"y":{"field":"v","type":"quantitative","scale":{"domain":[-0.1706,0.2765],"nice":false,"zero":false},"axis":null}},
"layer":[
{"data":{"name":"curves"},"transform":[{"filter":"datum.p==15 && datum.s=='b'"}],"mark":{"type":"line","color":"#3F3D99"}},
{"data":{"name":"curves"},"transform":[{"filter":"datum.p==15 && datum.s=='r'"}],"mark":{"type":"line","color":"#993D74"}},
{"data":{"values":[{"t":0,"t2":61.5,"v":0,"v2":0},{"t":0,"t2":0,"v":-0.1206,"v2":0.1794}]},"mark":{"type":"rule","color":"black","strokeWidth":2.4},"encoding":{"x2":{"field":"t2"},"y2":{"field":"v2"}}},
{"data":{"values":[{"t":0,"v":0.1,"l":"0.1"},{"t":0,"v":0,"l":"0"},{"t":0,"v":-0.1,"l":"□0.1"}]},"mark":{"type":"text","align":"right","baseline":"middle","dx":-14},"encoding":{"text":{"field":"l"}}},
{"data":{"values":[{"t":20,"v":0,"l":"20"},{"t":40,"v":0,"l":"40"},{"t":60,"v":0,"l":"60"}]},"mark":{"type":"text","align":"center","baseline":"middle","dy":28},"encoding":{"text":{"field":"l"}}}
]}
],"spacing":0,"bounds":"flush"}
],"spacing":0
}
